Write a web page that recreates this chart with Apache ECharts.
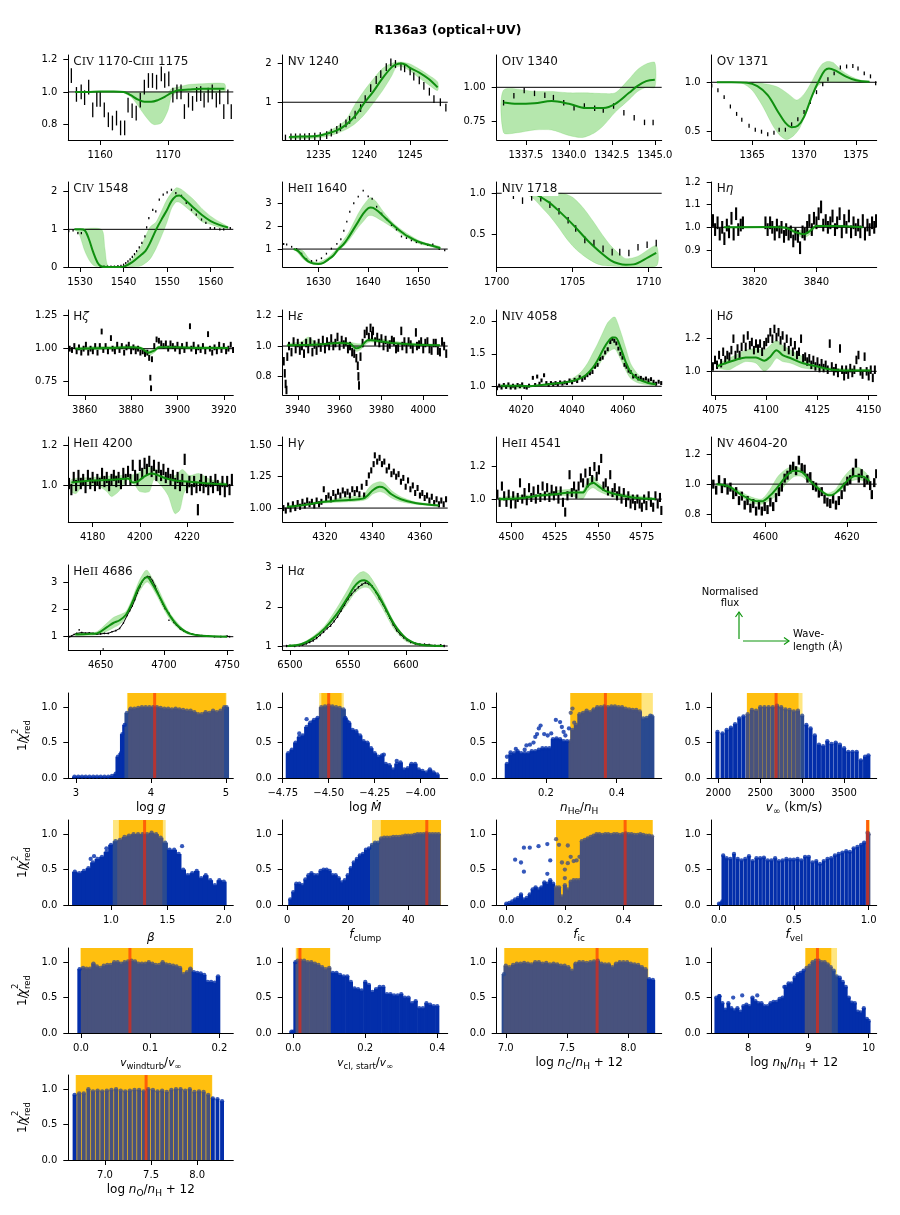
<!DOCTYPE html>
<html>
<head>
<meta charset="utf-8">
<script src="https://cdn.jsdelivr.net/npm/echarts@6/dist/echarts.min.js"></script>
<style>html,body{margin:0;padding:0;background:#fff}#chart{width:900px;height:1215px}</style>
</head>
<body>
<div id="chart"></div>
<script>
const civ1170Spec=[[1155.75,1.1],[1156.5,.985],[1157.2,1],[1157.7,.965],[1158.3,1.03],[1158.9,.89],[1159.5,.955],[1160,.955],[1160.6,.89],[1161.2,.83],[1161.8,.81],[1162.4,.84],[1163,.78],[1163.6,.78],[1164.1,.92],[1164.7,.885],[1165.3,.87],[1165.9,.95],[1166.5,1.03],[1167.1,1.07],[1167.7,1.07],[1168.3,1.06],[1169,1.11],[1169.5,1.07],[1170.1,1.08],[1170.7,.98],[1171.3,1],[1171.9,1],[1172.4,.88],[1173,.95],[1173.6,.93],[1174.2,.985],[1174.8,.99],[1175.3,.95],[1175.9,.98],[1176.5,1],[1177.1,.95],[1177.6,.97],[1178.2,.88],[1178.8,.97],[1179.3,.88]];
const nv1240Spec=[[1231.4,.07],[1232,.1],[1232.5,.1],[1233,.1],[1233.5,.1],[1234,.11],[1234.6,.12],[1235.2,.13],[1235.9,.16],[1236.4,.22],[1237,.29],[1237.4,.36],[1238,.46],[1238.4,.55],[1239,.68],[1239.6,.85],[1240.1,1.08],[1240.7,1.36],[1241.3,1.57],[1241.8,1.72],[1242.4,1.9],[1242.9,2.02],[1243.4,1.98],[1244,1.91],[1244.4,1.87],[1245,1.79],[1245.4,1.66],[1246,1.56],[1246.5,1.42],[1247.1,1.27],[1247.6,1.08],[1248.3,1],[1248.9,.86]];
const oiv1340Spec=[[1336.2,.888],[1336.8,.939],[1337.4,.976],[1338,.956],[1338.6,.942],[1339.1,.925],[1339.7,.888],[1340.3,.852],[1340.9,.864],[1341.5,.847],[1342,.835],[1342.6,.864],[1343.2,.816],[1343.8,.779],[1344.4,.745],[1344.9,.745]];
const ov1371Spec=[[1361.1,.966],[1361.7,.92],[1362.3,.85],[1362.9,.755],[1363.5,.68],[1364,.62],[1364.7,.56],[1365.3,.52],[1365.9,.5],[1366.5,.475],[1367.1,.49],[1367.6,.52],[1368.2,.52],[1368.8,.575],[1369.4,.625],[1370,.7],[1370.6,.8],[1371.2,.9],[1371.8,.98],[1372.3,1.03],[1372.9,1.09],[1373.5,1.15],[1374.1,1.16],[1374.7,1.165],[1375.2,1.14],[1375.8,1.09],[1376.4,1.06],[1376.9,.99]];
const civ1548Spec=[[1527.4,.95],[1528.4,.97],[1529.5,.9],[1530.3,.9],[1534.7,.01],[1535.5,.01],[1536.3,.01],[1537.1,.01],[1537.9,.01],[1538.7,.02],[1539.4,.03],[1540,.06],[1540.5,.1],[1541,.15],[1541.5,.2],[1542,.27],[1542.5,.34],[1543,.42],[1543.6,.52],[1544.2,.64],[1544.9,.81],[1545.3,1.05],[1545.8,1.3],[1546.7,1.52],[1547.4,1.48],[1548.2,1.79],[1549.1,1.92],[1550,1.98],[1551,2.05],[1552,1.96],[1553.3,1.89],[1554.4,1.7],[1555.6,1.52],[1556.7,1.39],[1557.9,1.26],[1558.9,1.17],[1559.9,1.03],[1560.9,1.03],[1562.1,1],[1563,1],[1564.5,1.03]];
const heii1640Spec=[[1623,1.22],[1623.6,1.2],[1624.6,1.1],[1625.6,1],[1626.6,.8],[1627.6,.55],[1628.6,.48],[1629.6,.5],[1630.6,.6],[1631.6,.8],[1632.6,1.02],[1633.7,1.23],[1634.5,1.43],[1635.1,1.8],[1635.7,2.2],[1636.3,2.63],[1637.1,3],[1638,3.29],[1639,3.55],[1640,3.3],[1640.8,3.2],[1641.7,2.85],[1642.7,2.55],[1643.7,2.3],[1644.7,2.05],[1645.7,1.85],[1646.7,1.55],[1647.7,1.48],[1648.7,1.38],[1649.7,1.3],[1650.7,1.25],[1652,1.17],[1653,1.2],[1654.3,1],[1655.4,.95]];
const niv1718Spec=[[1701.1,.97],[1701.7,.91],[1702.3,.95],[1702.9,.94],[1703.5,.86],[1704.1,.78],[1704.7,.67],[1705.2,.57],[1705.8,.43],[1706.4,.39],[1707,.32],[1707.6,.28],[1708.1,.28],[1708.7,.27],[1709.3,.34],[1709.9,.37],[1710.5,.39]];
const hEtaSpec=[[3806.5,1.03],[3807.2,.99],[3808,1.02],[3808.7,.97],[3809.5,1],[3810.2,.95],[3811,1.01],[3811.7,.98],[3812.5,1.04],[3813.2,.97],[3814,1.06],[3814.7,.99],[3815.5,1.01],[3816.2,1.02],[3823.5,1.02],[3824.2,.99],[3825,1.02],[3825.7,1],[3826.5,.97],[3827.2,1.01],[3828,.98],[3828.7,1],[3829.5,.96],[3830.2,.99],[3831,.97],[3831.7,.98],[3832.5,.94],[3833.2,.97],[3834,.96],[3834.7,.91],[3835.5,.98],[3836.2,.97],[3837,1],[3837.7,1.03],[3838.5,.99],[3839.2,1.04],[3840,1.02],[3840.7,1.06],[3841.5,1.09],[3842.2,1.01],[3843,1.03],[3843.7,1],[3844.5,1.02],[3845.2,1.05],[3846,.99],[3846.7,1.02],[3847.5,1.06],[3848.2,.98],[3849,1.03],[3849.7,1],[3850.5,1.05],[3851.2,.98],[3852,1.02],[3852.7,.99],[3853.5,1.01],[3854.2,.98],[3855,1.03],[3855.7,.97],[3856.5,1.01],[3857.2,.99],[3858,1.02],[3858.7,1],[3859.3,1.03]];
const hZetaSpec=[[3853.5,1],[3854.5,.99],[3855.5,1.02],[3856.5,.98],[3857.5,1.01],[3858.5,.97],[3859.5,1],[3860.5,1.03],[3861.5,.97],[3862.5,1],[3863.5,.98],[3864.5,1.02],[3865.5,.97],[3866.5,1.02],[3867.3,1.13],[3868,.99],[3869,1.02],[3870,.98],[3871.3,1.08],[3872,1],[3873,.98],[3874,1.03],[3875,.99],[3876,1.02],[3877,.97],[3878,1.01],[3879,1.03],[3880,.98],[3881,1.01],[3882,.98],[3883,1],[3884,.97],[3885,.98],[3886,.96],[3887,.97],[3887.8,.93],[3888.3,.78],[3888.6,.7],[3889,.92],[3890,1.02],[3891,1.07],[3892,1.06],[3893,1.04],[3894,1.02],[3895,1.04],[3896,1],[3897,1.04],[3898,1.02],[3899,1],[3900,1.03],[3901,.98],[3902,1.02],[3903,.99],[3904,1.03],[3905.4,1.17],[3906,1],[3907,1.03],[3908,.98],[3909,1.01],[3910,.99],[3911,1.02],[3912,.98],[3913.2,1.11],[3914,1],[3915,.97],[3916,1.01],[3917,.98],[3918,1.03],[3919,.99],[3920,1.02],[3921,.98],[3922,1],[3923,1.03],[3924,.99]];
const hEpsSpec=[[3933.3,.9],[3933.8,.82],[3934.2,.75],[3934.6,.71],[3935,.93],[3935.8,1],[3937,.96],[3938,1.03],[3939,.98],[3940,1.02],[3941,.97],[3942,1],[3943,.95],[3944,1.02],[3945,.98],[3946,1.03],[3947,.96],[3948,1.01],[3949,.97],[3950,1.02],[3951,.99],[3952,1.04],[3953,.98],[3954,1.03],[3955,1],[3956,1.05],[3957,1],[3958,1.02],[3959,1.06],[3960,1],[3961,1.04],[3962,1.01],[3963,1.03],[3964,.98],[3965,1],[3966,.96],[3967,.95],[3968,.92],[3968.7,.87],[3969,.8],[3969.3,.74],[3970,.93],[3971,1.02],[3972,1.08],[3973,1.1],[3974,1.06],[3974.8,1.12],[3975.5,1.07],[3976,1.1],[3977,1.03],[3978,1.06],[3979,1.02],[3980,1.05],[3981,1],[3982,1.04],[3983,.99],[3984,1.01],[3985,1.04],[3986,1.03],[3987,.98],[3988,.99],[3989.5,1.1],[3990,1],[3991,1.03],[3992,.98],[3993,1.03],[3994,1.01],[3995,.98],[3996.5,1.09],[3997,1],[3998,1.01],[3999,1.03],[4000,.98],[4001,1.02],[4002,1.03],[4003,.98],[4004,.97],[4005,1.02],[4006,1.02],[4007,.97],[4008,.96],[4009,1.03],[4010,1],[4011,.95]];
const niv4058Spec=[[4010.5,.97],[4011.4,1.01],[4012.3,.98],[4013.2,1.02],[4014.1,.99],[4015,1.03],[4015.9,.98],[4016.8,1.01],[4017.7,.98],[4018.6,1.02],[4019.5,1],[4020.4,1.03],[4021.3,.99],[4022.2,.98],[4023.1,1.01],[4024.6,1.13],[4025.5,1.02],[4026.3,1.15],[4027.2,1.04],[4028,1.09],[4029,1.17],[4029.9,1.05],[4030.8,1.02],[4031.7,1.05],[4032.6,1.03],[4033.5,1.05],[4034.4,1.03],[4035.3,1.06],[4036.2,1.04],[4037.1,1.06],[4038,1.05],[4039,1.09],[4040,1.06],[4041,1.1],[4042,1.08],[4043,1.14],[4044,1.1],[4045,1.13],[4046,1.17],[4047,1.2],[4048,1.22],[4049,1.3],[4050,1.33],[4051,1.42],[4052,1.44],[4053,1.52],[4054,1.57],[4055,1.68],[4055.8,1.73],[4056.6,1.7],[4057.4,1.66],[4058.2,1.58],[4059,1.5],[4059.8,1.44],[4060.6,1.33],[4061.4,1.3],[4062.2,1.24],[4063,1.22],[4064,1.15],[4065,1.16],[4066,1.12],[4067,1.13],[4068,1.1],[4069,1.12],[4070,1.09],[4071,1.11],[4072,1.07],[4073,1.04],[4074,1.07],[4075,1.05]];
const hDeltaSpec=[[4074,1.03],[4075,1.07],[4076,1.04],[4077,1.1],[4078,1.05],[4079,1.12],[4080,1.07],[4081,1.1],[4082,1.09],[4083,1.13],[4084,1.2],[4085,1.1],[4086,1.14],[4087,1.1],[4088,1.15],[4089,1.2],[4090,1.15],[4091,1.22],[4092,1.16],[4093,1.18],[4094,1.13],[4095,1.17],[4096,1.14],[4097,1.17],[4098,1.12],[4099,1.16],[4100,1.18],[4101,1.2],[4102,1.24],[4103,1.2],[4104,1.26],[4105,1.21],[4106,1.24],[4107,1.19],[4108,1.22],[4109,1.15],[4110,1.2],[4111,1.13],[4112,1.18],[4113,1.12],[4114,1.16],[4115,1.1],[4116,1.12],[4117,1.2],[4118,1.08],[4119,1.09],[4120,1.06],[4121,1.08],[4122,1.04],[4123,1.07],[4124,1.03],[4125,1.06],[4126,1.02],[4127,1.05],[4128,1.02],[4129,1.04],[4130,1.01],[4131,1.17],[4132,1.03],[4133,1],[4134,1.02],[4135,.99],[4136,1.14],[4137,1.01],[4138,.97],[4139,1.01],[4140,.98],[4141,1.02],[4142,.99],[4143,1.01],[4144,1.07],[4145,1.1],[4146,1],[4147,.98],[4148,1.09],[4149,1],[4150,.97],[4151,1.01],[4152,.96],[4153,1.01]];
const heii4200Spec=[[4170,1.01],[4171,.98],[4172,1.04],[4173,1],[4174,1.05],[4175,1.01],[4176,1.03],[4177,.99],[4178,1.05],[4179,1.01],[4180,1.04],[4181,1],[4182,1.03],[4183,1.01],[4184,1.06],[4185,1.02],[4186,1.04],[4187,1],[4188,1.03],[4189,1.05],[4190,1.02],[4191,1.04],[4192,1.01],[4193,1.06],[4194,1.03],[4195,1.07],[4196,1.03],[4197,1.1],[4198,1.05],[4199,1.03],[4200,1.1],[4201,1.06],[4202,1.11],[4203,1.08],[4204,1.12],[4205,1.07],[4206,1.1],[4207,1.05],[4208,1.09],[4209,1.05],[4210,1.08],[4211,1.04],[4212,1.06],[4213,1.03],[4214,1.05],[4215,1.01],[4216,1.04],[4217,1],[4218,1.03],[4219,1.13],[4220,.99],[4221,1.02],[4222,.98],[4223,1.02],[4224,.99],[4224.6,.88],[4225.5,1],[4226,1.03],[4227,.99],[4228,1.02],[4229,.98],[4230,1.02],[4231,.99],[4232,1.03],[4233,1],[4234,.98],[4235,1.02],[4236,.97],[4237,1.02],[4238,.98],[4239,1.03]];
const hGammaSpec=[[4302.5,1],[4303.5,.98],[4304.5,1.02],[4305.5,.99],[4306.5,1.03],[4307.5,1],[4308.5,1.04],[4309.5,1.01],[4310.5,1.05],[4311.5,1.02],[4312.5,1.06],[4313.5,1.03],[4314.5,1.05],[4315.5,1.02],[4316.5,1.06],[4317.5,1.03],[4318.5,1.05],[4319.5,1.15],[4320.5,1.08],[4321.5,1.1],[4322.5,1.07],[4323.5,1.12],[4324.5,1.09],[4325.5,1.13],[4326.5,1.1],[4327.5,1.14],[4328.5,1.11],[4329.5,1.13],[4330.5,1.1],[4331.5,1.15],[4332.5,1.12],[4333.5,1.15],[4334.5,1.11],[4335.5,1.17],[4336.5,1.1],[4337.5,1.2],[4338.5,1.26],[4339.5,1.3],[4340.5,1.35],[4341,1.42],[4342,1.37],[4343,1.4],[4344,1.35],[4345,1.37],[4346,1.3],[4347,1.33],[4348,1.27],[4349,1.29],[4350,1.25],[4351,1.27],[4352,1.21],[4353,1.24],[4354,1.17],[4355,1.22],[4356,1.15],[4357,1.18],[4358,1.12],[4359,1.16],[4360,1.1],[4361,1.12],[4362,1.08],[4363,1.1],[4364,1.06],[4365,1.09],[4366,1.04],[4367,1.07],[4368,1.03],[4369,1.06],[4370,1.03],[4371,1.07]];
const heii4541Spec=[[4492,1.03],[4493.3,.98],[4494.6,1.08],[4495.9,1.02],[4497.2,.98],[4498.5,1.03],[4499.8,.97],[4501.1,1.02],[4502.4,.97],[4503.7,1.01],[4505,1.1],[4506.3,1],[4507.6,1.04],[4508.9,.99],[4510.2,1.07],[4511.5,1.01],[4512.8,1.05],[4514.1,1],[4515.4,1.06],[4516.7,1.01],[4518,1.08],[4519.3,1.02],[4520.6,1.07],[4521.9,1.01],[4523.2,1.06],[4524.5,1.02],[4525.8,1.05],[4527.1,1],[4528.4,1.05],[4529.7,.98],[4531,.92],[4532.3,1.02],[4533.5,1.15],[4534.8,1.04],[4536.1,1.08],[4537.4,1.03],[4538.7,1.08],[4540,1.13],[4541.3,1.1],[4542.6,1.16],[4543.9,1.1],[4545.2,1.17],[4546.5,1.12],[4547.8,1.2],[4549.1,1.14],[4550.4,1.18],[4551.7,1.25],[4553,1.08],[4554.3,1.1],[4555.6,1.05],[4556.9,1.15],[4558.2,1.04],[4559.5,1.07],[4560.8,1.02],[4562.1,1.05],[4563.4,1],[4564.7,1.04],[4566,.98],[4567.3,1.02],[4568.6,.97],[4569.9,1],[4571.2,.96],[4572.5,1],[4573.8,.97],[4575.1,.95],[4576.4,1],[4577.7,.96],[4579,1.02],[4580.3,.98],[4581.6,.95],[4582.9,1.02],[4584.2,.97],[4585.5,1.01],[4586.3,.93]];
const nv4604Spec=[[4587.2,1],[4587.9,.96],[4588.6,1.03],[4589.3,.97],[4590,1.01],[4590.7,.96],[4591.4,.98],[4592.1,.93],[4592.8,.95],[4593.5,.89],[4594.2,.92],[4594.9,.86],[4595.6,.89],[4596.3,.84],[4597,.87],[4597.7,.82],[4598.4,.86],[4599.1,.82],[4599.8,.85],[4600.5,.83],[4601.2,.88],[4601.9,.85],[4602.6,.91],[4603.3,.95],[4604,.98],[4604.7,1.04],[4605.4,1.06],[4606.1,1.1],[4606.8,1.12],[4607.5,1.09],[4608.2,1.16],[4608.9,1.11],[4609.6,1.1],[4610.3,1.04],[4611,1.05],[4611.7,.99],[4612.4,.98],[4613.1,.94],[4613.8,.95],[4614.5,.9],[4615.2,.88],[4615.9,.87],[4616.6,.9],[4617.3,.86],[4618,.89],[4618.7,.93],[4619.4,.98],[4620.1,1.02],[4620.8,1.03],[4621.5,1.08],[4622.2,1.14],[4622.9,1.04],[4623.6,1.07],[4624.3,1.01],[4625,1.03],[4625.7,.99],[4626.1,.93],[4626.7,1.01],[4627.2,1.07]];
const heii4686Spec=[[4625.5,1],[4627,1.02],[4629,1.08],[4631,1.12],[4635,1.15],[4638,1.13],[4641,1.14],[4644,1.12],[4647,1.09],[4650,1.1],[4653,1.12],[4656,1.12],[4659,1.18],[4662,1.22],[4665,1.3],[4668,1.5],[4671,1.78],[4673,1.95],[4675,2.12],[4677,2.35],[4679,2.6],[4681,2.82],[4683,3.02],[4685,3.15],[4687,3.2],[4689,3.18],[4691,3.05],[4693,2.85],[4695,2.62],[4697,2.42],[4699,2.2],[4701,2.02],[4704,1.85],[4706,1.68],[4708,1.52],[4710,1.42],[4713,1.28],[4716,1.2],[4719,1.15],[4722,1.1],[4726,1.06],[4730,1.04],[4735,1.02],[4740,1],[4745,1],[4750,1.02],[4752,1]];
const heii4686Strays=[[4633,1.25],[4652,.55],[4704,1.6]];
const hAlphaSpec=[[6497,1],[6500,1.01],[6504,1],[6508,1.02],[6511,1.03],[6514,1.06],[6517,1.1],[6520,1.14],[6523,1.2],[6526,1.28],[6529,1.36],[6532,1.45],[6535,1.52],[6538,1.63],[6541,1.75],[6544,1.9],[6547,2.05],[6550,2.2],[6553,2.32],[6556,2.42],[6559,2.5],[6562,2.57],[6565,2.62],[6568,2.58],[6571,2.52],[6574,2.38],[6577,2.22],[6580,2.07],[6583,1.9],[6586,1.72],[6589,1.55],[6592,1.4],[6595,1.3],[6598,1.22],[6601,1.15],[6604,1.1],[6608,1.06],[6612,1.04],[6616,1.04],[6620,1.03],[6625,1.01],[6630,1.02],[6633,1]];

// model median and upper/lower envelope [wavelength, flux]
const civ1170Med=[[1156.3,1],[1158,1],[1160,1.003],[1162,1.003],[1163.5,1],[1164.5,.98],[1165.5,.955],[1166.5,.94],[1167.5,.94],[1168.5,.95],[1169.5,.97],[1170.5,.995],[1171.5,1.01],[1173,1.015],[1175,1.02],[1178.3,1.02]];
const civ1170Hi=[[1156.3,1],[1170,1],[1170.5,1.02],[1171.5,1.03],[1173,1.045],[1175,1.05],[1178.3,1.05]];
const civ1170Lo=[[1156.3,1],[1163,1],[1164.5,.97],[1165.5,.92],[1166.5,.86],[1167.5,.81],[1168,.8],[1169,.81],[1170,.89],[1170.5,.97],[1171.5,1],[1178.3,1]];
const nv1240Med=[[1231.8,.11],[1233,.12],[1234,.12],[1235,.14],[1236,.2],[1237,.28],[1238,.42],[1239,.65],[1240,.98],[1241,1.28],[1242,1.62],[1243,1.9],[1243.5,1.97],[1244,1.99],[1244.5,1.96],[1245,1.88],[1246,1.76],[1247,1.6],[1248,1.38]];
const nv1240Hi=[[1231.8,.12],[1235,.16],[1236,.25],[1237,.37],[1238,.55],[1239,.95],[1240,1.3],[1241,1.6],[1242,1.87],[1243,2],[1244,2.03],[1245,1.98],[1246,1.85],[1247,1.7],[1248,1.52]];
const nv1240Lo=[[1231.8,.07],[1234,.07],[1235,.09],[1236,.13],[1237,.2],[1238,.3],[1239,.45],[1240,.68],[1241,.98],[1242,1.3],[1243,1.68],[1243.5,1.9],[1244,1.92],[1245,1.8],[1246,1.62],[1247,1.45],[1248,1.3]];
const oiv1340Med=[[1336.2,.89],[1337,.88],[1338,.885],[1339,.9],[1340,.88],[1341,.85],[1342,.85],[1342.7,.88],[1343.5,.96],[1344,1.01],[1344.5,1.045],[1345,1.055]];
const oiv1340Hi=[[1336.2,.98],[1338,.97],[1339,.97],[1340,.96],[1341,.96],[1342,.955],[1342.7,.96],[1343.5,1.06],[1344,1.13],[1344.5,1.17],[1345,1.18]];
const oiv1340Lo=[[1336.2,.67],[1337,.67],[1338,.69],[1339,.69],[1340,.65],[1340.8,.635],[1341.5,.67],[1342,.72],[1342.7,.82],[1343.5,.91],[1344,.97],[1344.5,1],[1345,1]];
const ov1371Med=[[1361.6,1],[1363,1],[1364.5,.995],[1365.5,.96],[1366.5,.87],[1367.5,.7],[1368.2,.59],[1368.8,.545],[1369.4,.56],[1370,.65],[1370.8,.87],[1371.5,1.03],[1372,1.12],[1372.4,1.14],[1373,1.12],[1374,1.06],[1375,1.02],[1376.3,1.005]];
const ov1371Hi=[[1361.6,1],[1365,1],[1366.5,.98],[1367.5,.95],[1368.5,.88],[1369.3,.82],[1370,.88],[1370.6,.98],[1371.2,1.1],[1371.7,1.18],[1372.2,1.21],[1372.8,1.2],[1373.5,1.13],[1374.5,1.06],[1375.5,1.02],[1376.3,1.01]];
const ov1371Lo=[[1361.6,1],[1364,.99],[1365,.92],[1366,.76],[1367,.56],[1367.6,.47],[1368.3,.42],[1369,.46],[1369.6,.54],[1370.3,.72],[1370.8,.86],[1371.3,.96],[1372,1],[1374,1],[1376.3,1]];
const civ1548Med=[[1528.7,1],[1530,1],[1531,.98],[1532,.75],[1533,.4],[1534,.12],[1534.8,.02],[1536,0],[1539,0],[1540,.01],[1542,.13],[1544,.32],[1545,.42],[1546,.62],[1547.5,1],[1549,1.32],[1550,1.52],[1551,1.75],[1552,1.88],[1552.8,1.9],[1554,1.8],[1556,1.58],[1558,1.38],[1560,1.22],[1562,1.12],[1564,1.05]];
const civ1548Hi=[[1528.7,1],[1534.9,1],[1535.7,.5],[1536.5,.02],[1540,.02],[1542,.22],[1544,.55],[1546,1.05],[1547.5,1.2],[1550,1.8],[1552,2.1],[1553,2.08],[1554,2],[1556,1.8],[1558,1.55],[1560,1.35],[1562,1.2],[1564,1.07]];
const civ1548Lo=[[1528.7,1],[1529.7,.9],[1531,.45],[1532,.2],[1533,.05],[1533.8,.01],[1542,0],[1544,.03],[1546,.2],[1547.5,.5],[1549,.9],[1550,1.2],[1551,1.55],[1552,1.72],[1552.8,1.72],[1554,1.62],[1556,1.42],[1558,1.2],[1560,1.13],[1562,1.05],[1564,1.02]];
const heii1640Med=[[1625,1],[1626,.9],[1627,.65],[1628,.45],[1629,.37],[1630,.35],[1631,.4],[1632,.55],[1633,.72],[1634,1],[1635,1.2],[1636,1.5],[1637,1.85],[1638,2.2],[1639,2.55],[1640,2.78],[1640.5,2.82],[1641,2.8],[1642,2.65],[1643,2.45],[1644,2.25],[1645,2.05],[1646,1.87],[1647,1.7],[1648,1.55],[1650,1.33],[1652,1.2],[1654.5,1.05]];
const heii1640Hi=[[1625,1],[1626,1],[1627,.9],[1628,.6],[1629,.45],[1630,.42],[1632,.65],[1634,1.1],[1636,1.7],[1638,2.55],[1639,2.9],[1640,3.18],[1640.5,3.25],[1641.5,3.1],[1643,2.65],[1645,2.15],[1647,1.8],[1650,1.4],[1652,1.24],[1654.5,1.1]];
const heii1640Lo=[[1625,1],[1626,.8],[1627,.55],[1628,.4],[1629,.33],[1630,.32],[1632,.5],[1634,.9],[1636,1.35],[1638,1.95],[1639,2.2],[1640,2.45],[1641,2.45],[1643,2.2],[1645,1.92],[1647,1.6],[1650,1.25],[1652,1.14],[1654.5,1]];
const niv1718Med=[[1701,1],[1702,1],[1702.5,.99],[1703.5,.88],[1704,.8],[1705,.62],[1706,.42],[1707,.25],[1707.5,.18],[1708,.14],[1708.5,.125],[1709,.13],[1710,.22],[1710.5,.27]];
const niv1718Hi=[[1700.8,1],[1704.3,1],[1705,.95],[1705.7,.82],[1706.3,.67],[1707,.48],[1707.5,.36],[1708,.27],[1708.5,.2],[1709.3,.23],[1710.5,.36]];
const niv1718Lo=[[1700.8,1],[1702,.98],[1702.5,.92],[1703,.82],[1703.5,.72],[1704,.6],[1704.7,.42],[1705.3,.3],[1706,.2],[1706.7,.13],[1707.5,.11],[1710.5,.11]];
const hEtaMed=[[3810,1],[3825,1.002],[3830,.998],[3833,.98],[3836,.97],[3838,.985],[3840,1.006],[3845,1.006],[3855,1]];
const hEtaHi=[[3810,1.002],[3830,1.003],[3833,.99],[3836,.985],[3838,.995],[3840,1.01],[3855,1.005]];
const hEtaLo=[[3810,.998],[3830,.995],[3833,.97],[3836,.955],[3838,.97],[3840,1],[3855,.998]];
const hZetaMed=[[3856,1],[3870,1.005],[3880,1.01],[3884,1.005],[3887.5,.97],[3890,.985],[3892,1.01],[3900,1.01],[3910,1.005],[3922,1.005]];
const hZetaHi=[[3856,1.01],[3880,1.02],[3884,1.015],[3887.5,.985],[3890,1.0],[3892,1.02],[3900,1.02],[3922,1.012]];
const hZetaLo=[[3856,.99],[3880,1.0],[3884,.995],[3887.5,.95],[3890,.97],[3892,1.0],[3900,1.0],[3922,.998]];
const hEpsMed=[[3935,1.005],[3950,1.01],[3960,1.02],[3965,1.015],[3968,.985],[3970,.995],[3974,1.04],[3978,1.035],[3985,1.02],[3995,1.01],[4008,1.005]];
const hEpsHi=[[3935,1.015],[3942,1.03],[3945,1.06],[3948,1.03],[3952,1.02],[3960,1.03],[3965,1.025],[3970,1.015],[3974,1.05],[3978,1.05],[3990,1.025],[4008,1.01]];
const hEpsLo=[[3935,1],[3945,1],[3960,1.01],[3965,1],[3968,.965],[3970,.975],[3974,1.025],[3980,1.02],[3990,1.01],[4008,1]];
const niv4058Med=[[4012,1.01],[4020,1.01],[4023,1],[4028,1.02],[4035,1.05],[4040,1.08],[4045,1.16],[4048,1.28],[4050,1.4],[4052,1.55],[4054,1.68],[4056,1.75],[4057,1.75],[4059,1.6],[4061,1.38],[4063,1.22],[4066,1.11],[4070,1.05],[4073,1.03]];
const niv4058Hi=[[4012,1.02],[4023,1.01],[4030,1.04],[4038,1.08],[4043,1.2],[4046,1.35],[4048,1.5],[4050,1.65],[4052,1.82],[4054,1.98],[4056,2.06],[4057,2.06],[4059,1.85],[4061,1.6],[4063,1.35],[4066,1.18],[4070,1.08],[4073,1.05]];
const niv4058Lo=[[4012,.98],[4020,.97],[4023,.99],[4030,1.01],[4038,1.05],[4043,1.1],[4046,1.18],[4048,1.25],[4050,1.3],[4052,1.42],[4054,1.52],[4056,1.57],[4057,1.57],[4059,1.42],[4061,1.25],[4063,1.12],[4066,1.05],[4070,1.02],[4073,1.01]];
const hDeltaMed=[[4076,1.03],[4080,1.05],[4085,1.07],[4090,1.085],[4095,1.085],[4099,1.065],[4102,1.09],[4105,1.13],[4108,1.1],[4112,1.08],[4118,1.05],[4125,1.03],[4132,1.01],[4140,1.005],[4151,1.005]];
const hDeltaHi=[[4076,1.04],[4085,1.1],[4090,1.13],[4095,1.14],[4099,1.13],[4102,1.16],[4105,1.19],[4108,1.16],[4112,1.13],[4118,1.09],[4125,1.04],[4132,1.02],[4151,1.01]];
const hDeltaLo=[[4076,1.02],[4082,1.01],[4085,1.03],[4090,1.06],[4095,1.05],[4099,1],[4102,1.03],[4105,1.08],[4108,1.06],[4112,1.05],[4118,1.02],[4125,1.01],[4132,1],[4151,1]];
const heii4200Med=[[4171,1.015],[4180,1.025],[4190,1.03],[4195,1.035],[4197,1.015],[4199,1.02],[4202,1.045],[4205,1.06],[4210,1.04],[4215,1.025],[4220,1.02],[4225,1.015],[4230,1.01],[4237,1.005]];
const heii4200Hi=[[4171,1.03],[4180,1.04],[4190,1.05],[4195,1.05],[4199,1.06],[4203,1.09],[4207,1.08],[4210,1.05],[4215,1.05],[4218,1.08],[4221,1.05],[4225,1.06],[4230,1.03],[4237,1.01]];
const heii4200Lo=[[4171,.97],[4173,.96],[4176,1],[4182,1],[4186,.97],[4188,.945],[4191,.97],[4195,1.03],[4198,1],[4200,.97],[4204,.97],[4206,1.03],[4209,1],[4212,.95],[4214,.88],[4215,.86],[4217,.88],[4219,.97],[4223,1],[4237,1]];
const hGammaMed=[[4304,1.01],[4310,1.02],[4320,1.05],[4330,1.065],[4336,1.075],[4338,1.1],[4340,1.14],[4343,1.17],[4345,1.16],[4348,1.11],[4352,1.07],[4358,1.04],[4368,1.02]];
const hGammaHi=[[4304,1.015],[4320,1.06],[4330,1.09],[4336,1.1],[4338,1.15],[4340,1.19],[4343,1.21],[4345,1.2],[4348,1.14],[4352,1.09],[4358,1.05],[4368,1.025]];
const hGammaLo=[[4304,1.005],[4320,1.04],[4330,1.05],[4336,1.06],[4338,1.075],[4340,1.11],[4343,1.13],[4345,1.12],[4348,1.08],[4352,1.05],[4358,1.03],[4368,1.015]];
const heii4541Med=[[4493,1],[4505,1.005],[4515,1.02],[4525,1.03],[4535,1.04],[4541,1.04],[4544,1.08],[4547,1.1],[4550,1.08],[4554,1.05],[4560,1.03],[4570,1.01],[4583,1]];
const heii4541Hi=[[4493,1.01],[4515,1.03],[4525,1.05],[4535,1.06],[4541,1.05],[4544,1.12],[4547,1.14],[4550,1.1],[4554,1.07],[4560,1.04],[4583,1.005]];
const heii4541Lo=[[4493,.99],[4515,1.01],[4525,1.02],[4535,1.02],[4541,1],[4544,1.05],[4547,1.07],[4550,1.05],[4554,1.03],[4560,1.01],[4583,.995]];
const nv4604Med=[[4588,1],[4591,.985],[4594,.93],[4597,.89],[4599,.885],[4601,.92],[4603,.98],[4605,1.05],[4607,1.09],[4609,1.08],[4611,1.02],[4613,.97],[4615,.93],[4616,.925],[4618,.96],[4620,1.02],[4622,1.055],[4624,1.05],[4625.5,1.02]];
const nv4604Hi=[[4588,1.005],[4592,.98],[4596,.92],[4599,.9],[4601,.96],[4603,1.05],[4605,1.1],[4607,1.12],[4609,1.1],[4611,1.04],[4613,.99],[4615,.94],[4617,.96],[4619,1.04],[4621,1.1],[4623,1.11],[4625.5,1.05]];
const nv4604Lo=[[4588,.995],[4592,.96],[4596,.88],[4599,.865],[4601,.89],[4603,.93],[4605,1],[4607,1.05],[4609,1.05],[4611,1],[4613,.96],[4615,.92],[4617,.93],[4619,.97],[4621,1.02],[4623,1.03],[4625.5,1.01]];
const heii4686Med=[[4630,1.08],[4640,1.1],[4647,1.12],[4655,1.35],[4660,1.5],[4665,1.6],[4670,1.8],[4675,2.25],[4680,2.8],[4685,3.15],[4687,3.17],[4690,3],[4695,2.6],[4700,2.15],[4705,1.75],[4710,1.45],[4715,1.25],[4720,1.12],[4730,1.03],[4750,1]];
const heii4686Hi=[[4630,1.12],[4640,1.13],[4647,1.18],[4655,1.5],[4660,1.7],[4665,1.8],[4670,1.92],[4675,2.4],[4680,3],[4685,3.4],[4687,3.42],[4690,3.2],[4695,2.8],[4700,2.3],[4705,1.85],[4710,1.55],[4715,1.3],[4720,1.15],[4730,1.05],[4750,1]];
const heii4686Lo=[[4630,1.04],[4640,1.05],[4647,1.07],[4655,1.2],[4660,1.32],[4665,1.45],[4670,1.7],[4675,2.1],[4680,2.6],[4685,2.95],[4687,3],[4690,2.85],[4695,2.45],[4700,2],[4705,1.62],[4710,1.35],[4715,1.18],[4720,1.08],[4730,1],[4750,1]];
const hAlphaMed=[[6498,1],[6510,1.05],[6520,1.2],[6530,1.45],[6540,1.8],[6550,2.25],[6555,2.5],[6560,2.65],[6564,2.68],[6568,2.62],[6575,2.35],[6580,2.1],[6590,1.55],[6600,1.2],[6610,1.05],[6620,1.01],[6632,1]];
const hAlphaHi=[[6498,1],[6510,1.07],[6520,1.25],[6530,1.52],[6540,1.95],[6550,2.45],[6555,2.72],[6560,2.87],[6564,2.9],[6568,2.82],[6575,2.5],[6580,2.2],[6590,1.6],[6600,1.22],[6610,1.06],[6620,1.02],[6632,1]];
const hAlphaLo=[[6498,.98],[6510,1.02],[6520,1.15],[6530,1.4],[6540,1.72],[6550,2.1],[6555,2.32],[6560,2.45],[6564,2.5],[6568,2.48],[6575,2.2],[6580,1.95],[6590,1.42],[6600,1.12],[6610,1.02],[6620,1],[6632,.98]];

// goodness of fit columns [parameter, top of 1/chi2]
const logGCols=[[2.98,.02],[3.03,.02],[3.08,.02],[3.13,.02],[3.18,.02],[3.23,.02],[3.28,.02],[3.33,.02],[3.38,.02],[3.43,.02],[3.48,.03],[3.53,.06],[3.56,.3],[3.6,.35],[3.62,.62],[3.65,.75],[3.68,.92],[3.73,.98],[3.78,.98],[3.83,.99],[3.88,1],[3.93,1],[3.98,1],[4.03,1],[4.08,1],[4.13,.99],[4.18,.98],[4.23,.98],[4.28,.97],[4.33,.98],[4.38,.97],[4.43,.96],[4.48,.95],[4.53,.95],[4.58,.93],[4.63,.9],[4.68,.9],[4.73,.93],[4.78,.92],[4.83,.95],[4.88,.93],[4.93,.95],[4.98,1],[5.01,1]];
const mdotCols=[[-4.72,.35],[-4.7,.4],[-4.68,.5],[-4.66,.58],[-4.64,.6],[-4.62,.72],[-4.6,.78],[-4.58,.82],[-4.56,.85],[-4.54,1],[-4.52,1.01],[-4.5,1.02],[-4.48,1.01],[-4.46,1],[-4.44,.99],[-4.42,.97],[-4.41,.85],[-4.39,.78],[-4.37,.68],[-4.35,.64],[-4.33,.6],[-4.31,.52],[-4.29,.5],[-4.27,.42],[-4.25,.35],[-4.23,.3],[-4.21,.32],[-4.19,.2],[-4.17,.18],[-4.15,.12],[-4.13,.2],[-4.11,.22],[-4.09,.12],[-4.07,.14],[-4.05,.2],[-4.03,.2],[-4.01,.12],[-3.99,.1],[-3.97,.08],[-3.95,.12],[-3.93,.08],[-3.91,.05]];
const nHeCols=[[.09,.2],[.1,.33],[.11,.35],[.12,.38],[.13,.35],[.14,.35],[.15,.35],[.16,.38],[.17,.38],[.18,.4],[.19,.42],[.2,.42],[.21,.42],[.22,.55],[.23,.56],[.24,.55],[.25,.52],[.26,.52],[.27,.52],[.275,.68],[.285,.75],[.295,.9],[.305,.92],[.315,.95],[.325,.93],[.335,.97],[.345,1],[.355,1],[.365,1.01],[.375,1],[.385,1.01],[.395,1.01],[.405,1],[.415,1],[.425,.98],[.435,.97],[.445,.96],[.455,.96],[.465,.94],[.475,.84],[.485,.85],[.495,.88],[.5,.87]];
const vInfCols=[[1990,.65],[2050,.63],[2100,.68],[2150,.71],[2200,.76],[2250,.84],[2300,.87],[2350,.9],[2400,.96],[2450,.95],[2500,1],[2550,1],[2600,1],[2650,1],[2700,1.02],[2750,1],[2800,.97],[2850,.96],[2900,.94],[2950,.95],[3000,.88],[3050,.75],[3100,.7],[3150,.6],[3200,.47],[3250,.45],[3300,.52],[3350,.48],[3400,.5],[3450,.47],[3500,.42],[3550,.37],[3600,.37],[3650,.37],[3700,.25],[3750,.3],[3790,.32]];
const betaCols=[[.68,.47],[.72,.45],[.76,.48],[.8,.52],[.84,.6],[.88,.65],[.92,.68],[.96,.75],[1,.85],[1.04,.9],[1.08,.92],[1.12,.96],[1.16,.98],[1.2,1],[1.24,1],[1.28,1],[1.32,1],[1.36,1.02],[1.4,1],[1.44,.95],[1.48,.88],[1.52,.78],[1.56,.78],[1.6,.72],[1.64,.5],[1.68,.42],[1.72,.45],[1.76,.48],[1.8,.38],[1.84,.42],[1.88,.35],[1.92,.28],[1.96,.35],[2,.33]];
const fClumpCols=[[1,.08],[2,.18],[3,.3],[4,.3],[5,.28],[6,.36],[7,.42],[8,.45],[9,.42],[10,.42],[11,.48],[12,.5],[13,.5],[14,.48],[15,.42],[16,.42],[17,.38],[18,.32],[19,.35],[20,.42],[21,.52],[22,.6],[23,.65],[24,.7],[25,.72],[26,.78],[27,.8],[28,.85],[29,.88],[30,.88],[31,.94],[32,.95],[33,.95],[34,.95],[35,.96],[36,.96],[37,.96],[38,.97],[39,.98],[40,.98],[41,.98],[42,.99],[43,1],[44,1],[45,1],[46,1.01],[47,1],[48,1],[49,1],[50,1]];
const fIcCols=[[0,.02],[.01,.03],[.02,.05],[.03,.08],[.04,.1],[.05,.15],[.06,.08],[.07,.1],[.08,.15],[.09,.22],[.1,.25],[.11,.22],[.12,.25],[.13,.32],[.14,.3],[.15,.35],[.16,.3],[.17,.25],[.18,.25],[.19,.12],[.2,.28],[.21,.22],[.22,.33],[.23,.35],[.24,.35],[.25,.35],[.258,.9],[.268,.92],[.278,.94],[.288,.96],[.298,.98],[.308,1],[.318,1],[.328,.99],[.338,1],[.348,1],[.358,.99],[.368,1],[.378,1],[.388,.99],[.398,1],[.408,1.01],[.418,1],[.428,1],[.438,.99],[.448,.99],[.458,1],[.468,.99],[.478,.98],[.488,.98],[.498,.97]];
const fVelCols=[[0,.02],[.012,.02],[.022,.05],[.028,.7],[.05,.66],[.075,.65],[.1,.72],[.125,.65],[.15,.63],[.175,.65],[.2,.69],[.225,.62],[.25,.66],[.275,.66],[.3,.67],[.325,.63],[.35,.63],[.375,.66],[.4,.62],[.425,.63],[.45,.65],[.475,.64],[.5,.64],[.525,.65],[.55,.63],[.575,.68],[.6,.68],[.625,.6],[.65,.62],[.675,.58],[.7,.62],[.725,.65],[.75,.66],[.775,.7],[.8,.72],[.825,.74],[.85,.76],[.875,.75],[.9,.8],[.925,.82],[.95,.85],[.97,.88],[.993,1.02],[1,1]];
const vTurbCols=[[-.002,.9],[.003,.92],[.008,.91],[.013,.91],[.018,.98],[.023,.94],[.028,.92],[.033,.95],[.038,.96],[.043,.96],[.048,1],[.053,1],[.058,.98],[.063,1],[.068,1.01],[.073,1.02],[.078,1.01],[.083,.98],[.088,.98],[.093,.98],[.098,1],[.103,.98],[.108,.96],[.113,.96],[.118,1],[.123,.97],[.128,.96],[.133,.95],[.138,.94],[.143,.92],[.148,.83],[.153,.86],[.158,.91],[.163,.86],[.168,.85],[.173,.84],[.178,.82],[.183,.72],[.188,.72],[.193,.71],[.198,.8]];
const vClCols=[[-.005,.02],[0,.02],[.006,1],[.012,1.02],[.02,1.02],[.03,1.02],[.04,1],[.05,1],[.06,.98],[.07,.96],[.08,.93],[.09,.9],[.1,.92],[.11,.85],[.12,.85],[.13,.82],[.14,.8],[.15,.8],[.16,.72],[.17,.63],[.18,.62],[.19,.6],[.2,.72],[.21,.68],[.22,.58],[.23,.62],[.24,.65],[.25,.65],[.26,.55],[.27,.55],[.28,.53],[.29,.53],[.3,.55],[.31,.5],[.32,.5],[.33,.42],[.34,.45],[.35,.35],[.36,.35],[.37,.42],[.38,.4],[.39,.38],[.4,.38]];
const nCCols=[[6.985,.83],[7,.95],[7.03,.93],[7.06,.96],[7.09,.98],[7.12,.98],[7.15,.99],[7.18,.98],[7.21,.97],[7.24,1],[7.27,1],[7.3,.98],[7.33,.99],[7.36,.97],[7.39,.98],[7.42,.97],[7.45,.95],[7.48,.95],[7.51,.93],[7.54,.88],[7.57,.98],[7.6,1],[7.63,1],[7.66,.99],[7.69,1],[7.72,1.01],[7.75,1.02],[7.78,.98],[7.81,.97],[7.84,.97],[7.87,.93],[7.9,.98],[7.93,1],[7.96,1],[7.99,1],[8.02,.98],[8.05,.97],[8.08,.96],[8.11,.93],[8.14,.9],[8.17,.76],[8.2,.75]];
const nNCols=[[7.47,.5],[7.52,.52],[7.57,.42],[7.62,.33],[7.67,.42],[7.72,.35],[7.77,.32],[7.82,.35],[7.87,.3],[7.92,.38],[7.97,.4],[8.02,.38],[8.07,.5],[8.12,.45],[8.17,.42],[8.22,.42],[8.27,.38],[8.32,.38],[8.37,.42],[8.42,.44],[8.47,.44],[8.52,.48],[8.57,.5],[8.62,.65],[8.67,.7],[8.72,.7],[8.77,.78],[8.82,.83],[8.87,.85],[8.92,.88],[8.97,.92],[9.02,.95],[9.07,1],[9.12,1.02],[9.17,1.02],[9.22,1],[9.27,1],[9.32,.97],[9.37,.93],[9.42,.88],[9.47,.8],[9.52,.78],[9.57,.72],[9.62,.65],[9.67,.5],[9.72,.43],[9.77,.42],[9.82,.3],[9.87,.29],[9.92,.35],[9.97,.2],[10,.17]];
const nOCols=[[6.67,.92],[6.72,.94],[6.77,.94],[6.82,1],[6.87,.97],[6.92,.98],[6.97,.97],[7.02,.98],[7.07,.99],[7.12,1],[7.17,.98],[7.22,.97],[7.27,.98],[7.32,.99],[7.37,.99],[7.42,.97],[7.47,1],[7.52,.99],[7.57,.97],[7.62,.98],[7.67,.96],[7.72,.99],[7.77,1],[7.82,1],[7.87,.98],[7.92,1],[7.97,.96],[8.02,.97],[8.07,.96],[8.12,.92],[8.17,.87],[8.22,.86],[8.27,.83]];

// stray points above the columns
const mdotDots=[[-4.66,.63],[-4.62,.83],[-4.4,.8],[-4.35,.66],[-4.2,.33],[-4.13,.24]];
const nHeDots=[[.09,.3],[.1,.36],[.115,.41],[.14,.4],[.145,.46],[.155,.47],[.165,.5],[.17,.58],[.175,.62],[.185,.74],[.18,.7],[.195,.62],[.205,.6],[.215,.63],[.228,.82],[.24,.79],[.245,.72],[.25,.65],[.255,.6],[.265,.7],[.27,.92],[.275,.98],[.28,.78],[.3,.8]];
const betaDots=[[1.63,.83],[.85,.69],[.82,.65],[.96,.8]];
const fIcDots=[[.03,.64],[.05,.6],[.06,.81],[.06,.47],[.08,.81],[.11,.83],[.14,.86],[.15,.63],[.14,.44],[.17,.93],[.18,.85],[.21,.84],[.21,.59],[.19,.6],[.2,.5],[.22,.68],[.23,.62],[.24,.63],[.25,.68],[.2,.38]];
const nNDots=[[7.52,.52],[7.75,.5],[7.9,.53],[8.15,.53],[8.6,.65]];

const colLeft=[68.3,282.7,496.7,711.7], rowTop=[55,182,310,437,565,693,820,948,1075];
const panelW=165, panelH=85;
const FONT='DejaVu Sans';

const spectra=[
 {label:'C{s|IV} 1170-C{s|III} 1175',spec:civ1170Spec,err:.045,med:civ1170Med,hi:civ1170Hi,lo:civ1170Lo,xLim:[1155.3,1179.6],yLim:[.706,1.226],xT:[1160,1170],yT:[.8,1,1.2],xD:0,yD:1},
 {label:'N{s|V} 1240',spec:nv1240Spec,err:.1,med:nv1240Med,hi:nv1240Hi,lo:nv1240Lo,xLim:[1231.1,1249.1],yLim:[.033,2.21],xT:[1235,1240,1245],yT:[1,2],xD:0,yD:0},
 {label:'O{s|IV} 1340',spec:oiv1340Spec,err:.02,med:oiv1340Med,hi:oiv1340Hi,lo:oiv1340Lo,xLim:[1335.8,1345.4],yLim:[.617,1.235],xT:[1337.5,1340,1342.5,1345],yT:[.75,1],xD:1,yD:2},
 {label:'O{s|V} 1371',spec:ov1371Spec,err:.02,med:ov1371Med,hi:ov1371Hi,lo:ov1371Lo,xLim:[1361.1,1377],yLim:[.416,1.276],xT:[1365,1370,1375],yT:[.5,1],xD:0,yD:1},
 {label:'C{s|IV} 1548',spec:civ1548Spec,err:.03,med:civ1548Med,hi:civ1548Hi,lo:civ1548Lo,xLim:[1527.3,1565.2],yLim:[0,2.257],xT:[1530,1540,1550,1560],yT:[0,1,2],xD:0,yD:0},
 {label:'He{s|II} 1640',spec:heii1640Spec,err:.04,med:heii1640Med,hi:heii1640Hi,lo:heii1640Lo,xLim:[1622.8,1656],yLim:[.217,3.93],xT:[1630,1640,1650],yT:[1,2,3],xD:0,yD:0},
 {label:'N{s|IV} 1718',spec:niv1718Spec,err:.04,med:niv1718Med,hi:niv1718Hi,lo:niv1718Lo,xLim:[1700,1710.86],yLim:[.098,1.138],xT:[1700,1705,1710],yT:[.5,1],xD:0,yD:1,box:true},
 {label:'H{g|η}',spec:hEtaSpec,err:.028,barW:2.1,med:hEtaMed,hi:hEtaHi,lo:hEtaLo,xLim:[3806.1,3859.5],yLim:[.825,1.2],xT:[3820,3840],yT:[.9,1,1.1,1.2],xD:0,yD:1},
 {label:'H{g|ζ}',spec:hZetaSpec,err:.022,barW:2,med:hZetaMed,hi:hZetaHi,lo:hZetaLo,xLim:[3852.9,3924.1],yLim:[.649,1.293],xT:[3860,3880,3900,3920],yT:[.75,1,1.25],xD:0,yD:2},
 {label:'H{g|ε}',spec:hEpsSpec,err:.028,barW:2,med:hEpsMed,hi:hEpsHi,lo:hEpsLo,xLim:[3932.8,4011.7],yLim:[.677,1.238],xT:[3940,3960,3980,4000],yT:[.8,1,1.2],xD:0,yD:1},
 {label:'N{s|IV} 4058',spec:niv4058Spec,err:.03,barW:2.1,med:niv4058Med,hi:niv4058Hi,lo:niv4058Lo,xLim:[4010.4,4075.2],yLim:[.866,2.174],xT:[4020,4040,4060],yT:[1,1.5,2],xD:0,yD:1},
 {label:'H{g|δ}',spec:hDeltaSpec,err:.026,barW:2,med:hDeltaMed,hi:hDeltaHi,lo:hDeltaLo,xLim:[4073.4,4153.9],yLim:[.855,1.376],xT:[4075,4100,4125,4150],yT:[1,1.2],xD:0,yD:1},
 {label:'He{s|II} 4200',spec:heii4200Spec,err:.028,barW:2.1,med:heii4200Med,hi:heii4200Hi,lo:heii4200Lo,xLim:[4169.7,4239.6],yLim:[.819,1.241],xT:[4180,4200,4220],yT:[1,1.2],xD:0,yD:1},
 {label:'H{g|γ}',spec:hGammaSpec,err:.024,barW:2.1,med:hGammaMed,hi:hGammaHi,lo:hGammaLo,xLim:[4302.2,4371.7],yLim:[.889,1.566],xT:[4320,4340,4360],yT:[1,1.25,1.5],xD:0,yD:2},
 {label:'He{s|II} 4541',spec:heii4541Spec,err:.028,barW:2.1,med:heii4541Med,hi:heii4541Hi,lo:heii4541Lo,xLim:[4491.6,4586.5],yLim:[.859,1.382],xT:[4500,4525,4550,4575],yT:[1,1.2],xD:0,yD:1},
 {label:'N{s|V} 4604-20',spec:nv4604Spec,err:.03,barW:2.4,med:nv4604Med,hi:nv4604Hi,lo:nv4604Lo,xLim:[4586.8,4627.3],yLim:[.747,1.315],xT:[4600,4620],yT:[.8,1,1.2],xD:0,yD:1},
 {label:'He{s|II} 4686',spec:heii4686Spec,strays:heii4686Strays,err:.03,joined:true,med:heii4686Med,hi:heii4686Hi,lo:heii4686Lo,xLim:[4624.4,4754.9],yLim:[.513,3.62],xT:[4650,4700,4750],yT:[1,2,3],xD:0,yD:0},
 {label:'H{g|α}',spec:hAlphaSpec,err:.03,joined:true,med:hAlphaMed,hi:hAlphaHi,lo:hAlphaLo,xLim:[6493.7,6636],yLim:[.898,3.07],xT:[6500,6550,6600],yT:[1,2,3],xD:0,yD:0}
];

const fits=[
 {name:'log {i|g}',cols:logGCols,dots:[],w:5,gold:[3.69,5],pale:[3.68,5.01],best:4.05,xLim:[2.897,5.1],xT:[3,4,5],xD:0},
 {name:'log {i|Ṁ}',cols:mdotCols,dots:mdotDots,w:5,gold:[-4.54,-4.43],pale:[-4.552,-4.418],best:-4.5,xLim:[-4.75,-3.853],xT:[-4.75,-4.5,-4.25,-4],xD:2},
 {name:'{i|n}{b|He}/{i|n}{b|H}',cols:nHeCols,dots:nHeDots,w:4.5,gold:[.269,.47],pale:[.269,.502],best:.368,xLim:[.061,.527],xT:[.2,.4],xD:1},
 {name:'{i|v}{b|∞} (km/s)',cols:vInfCols,dots:[],w:4,gold:[2341,2957],pale:[2341,3004],best:2689,xLim:[1921,3889],xT:[2000,2500,3000,3500],xD:0},
 {name:'{i|β}',cols:betaCols,dots:betaDots,w:5.6,gold:[1.07,1.46],pale:[1.018,1.485],best:1.298,xLim:[.622,2.084],xT:[1,1.5,2],xD:1,gap:25},
 {name:'{i|f}{b|clump}',cols:fClumpCols,dots:[],w:4,gold:[30.9,50.8],pale:[28,50.8],best:46.1,xLim:[-1.5,53],xT:[0,20,40],xD:0},
 {name:'{i|f}{b|ic}',cols:fIcCols,dots:fIcDots,w:4,gold:[.17,.5],pale:[.17,.5],best:.406,xLim:[-.033,.531],xT:[0,.2,.4],xD:1},
 {name:'{i|f}{b|vel}',cols:fVelCols,dots:[],w:3.5,gold:[.985,1.004],pale:[.982,1.007],best:.993,xLim:[-.049,1.054],xT:[0,.5,1],xD:1},
 {name:'{I|v}{B|windturb}/{I|v}{B|∞}',cols:vTurbCols,dots:[],w:4.5,gold:[0,.1616],pale:[-.001,.162],best:.0707,xLim:[-.0183,.22],xT:[0,.1,.2],xD:1},
 {name:'{I|v}{B|cl, start}/{I|v}{B|∞}',cols:vClCols,dots:[],w:4.2,gold:[.0094,.102],pale:[.0067,.103],best:.0185,xLim:[-.0294,.429],xT:[0,.2,.4],xD:1},
 {name:'log {i|n}{b|C}/{i|n}{b|H} + 12',cols:nCCols,dots:[],w:4.6,gold:[6.99,8.16],pale:[6.985,8.165],best:7.745,xLim:[6.926,8.272],xT:[7,7.5,8],xD:1},
 {name:'log {i|n}{b|N}/{i|n}{b|H} + 12',cols:nNCols,dots:nNDots,w:3.8,gold:[8.95,9.38],pale:[8.95,9.475],best:9.15,xLim:[7.393,10.134],xT:[8,9,10],xD:0},
 {name:'log {i|n}{b|O}/{i|n}{b|H} + 12',cols:nOCols,dots:[],w:3.9,gold:[6.686,8.16],pale:[6.68,8.165],best:7.446,xLim:[6.602,8.392],xT:[7,7.5,8],xD:1}
];
const fitYTicks=[0,.5,1];

const grid=[],xAxis=[],yAxis=[],series=[],title=[],graphic=[];

function fmt(v,d){return v.toFixed(d).replace('-','−');}

function addAxes(col,row,xLim,yLim,xT,yT,xD,yD,nameOpt){
  grid.push({left:colLeft[col],top:rowTop[row],width:panelW,height:panelH});
  const i=grid.length-1;
  const line={onZero:false,lineStyle:{color:'#000',width:1}};
  const lbl={color:'#000',fontFamily:FONT,fontSize:10};
  xAxis.push(Object.assign({gridIndex:i,type:'value',position:'bottom',min:xLim[0],max:xLim[1],splitLine:{show:false},axisLine:line,
    axisTick:{length:5,customValues:xT,lineStyle:{color:'#000',width:1}},
    axisLabel:Object.assign({},lbl,{margin:10,customValues:xT,formatter:v=>fmt(v,xD)})},nameOpt||{}));
  yAxis.push({gridIndex:i,type:'value',position:'left',min:yLim[0],max:yLim[1],splitLine:{show:false},axisLine:line,
    axisTick:{length:5,customValues:yT,lineStyle:{color:'#000',width:1}},
    axisLabel:Object.assign({},lbl,{margin:11,customValues:yT,formatter:v=>fmt(v,yD)})});
  return i;
}

function bandRender(hi,lo){
  return function(params,api){
    if(params.dataIndex!==0) return;
    const pts=hi.concat(lo.slice().reverse()).map(p=>api.coord(p));
    return {type:'polygon',shape:{points:pts,smooth:0.25},style:{fill:'#5cc94a',opacity:0.45,stroke:'#5cc94a',lineWidth:0.5},silent:true};
  };
}

spectra.forEach((p,k)=>{
  const col=k%4,row=Math.floor(k/4);
  const i=addAxes(col,row,p.xLim,p.yLim,p.xT,p.yT,p.xD,p.yD);
  const ax={xAxisIndex:i,yAxisIndex:i};
  const barW=p.barW||1.3;
  series.push(Object.assign({type:'custom',coordinateSystem:'cartesian2d',clip:true,z:1,silent:true,data:[[p.xLim[0],p.yLim[0]]],
    renderItem:bandRender(p.hi,p.lo),encode:{x:0,y:1}},ax));
  if(p.joined) series.push(Object.assign({type:'line',z:2,silent:true,symbol:'none',data:p.spec,lineStyle:{color:'#000',width:1}},ax));
  series.push(Object.assign({type:'custom',coordinateSystem:'cartesian2d',clip:true,z:2,silent:true,
    data:p.spec.concat(p.strays||[]).map(d=>[d[0],d[1]-p.err,d[1]+p.err]),encode:{x:0,y:[1,2]},
    renderItem:(params,api)=>{
      const a=api.coord([api.value(0),api.value(1)]),b=api.coord([api.value(0),api.value(2)]);
      return {type:'line',shape:{x1:a[0],y1:a[1],x2:b[0],y2:b[1]},style:{stroke:'#000',lineWidth:barW}};
    }},ax));
  series.push(Object.assign({type:'line',z:3,silent:true,symbol:'none',data:[[p.xLim[0],1],[p.xLim[1],1]],lineStyle:{color:'#000',width:1}},ax));
  series.push(Object.assign({type:'line',z:4,silent:true,symbol:'none',smooth:0.35,data:p.med,lineStyle:{color:'#0f8f0f',width:2}},ax));
  title.push({text:p.label,left:colLeft[col]+5,top:rowTop[row],padding:[1,1,1,0],backgroundColor:p.box?'#fff':'transparent',z:5,
    textStyle:{fontFamily:FONT,fontSize:12,fontWeight:'normal',color:'#111',
      rich:{s:{fontFamily:'DejaVu Serif',fontSize:11,color:'#111'},g:{fontFamily:'DejaVu Sans',fontStyle:'italic',fontSize:12,color:'#111'}}}});
});

const richName={
  i:{fontStyle:'italic',fontSize:12,fontFamily:FONT,color:'#000',lineHeight:16},
  b:{fontSize:9,fontFamily:FONT,color:'#000',verticalAlign:'bottom',lineHeight:16},
  I:{fontStyle:'italic',fontSize:10.5,fontFamily:FONT,color:'#000',lineHeight:16},
  B:{fontSize:8.5,fontFamily:FONT,color:'#000',verticalAlign:'bottom',lineHeight:16}
};

fits.forEach((p,k)=>{
  const col=k%4,row=5+Math.floor(k/4);
  const i=addAxes(col,row,p.xLim,[0,1.2],p.xT,fitYTicks,p.xD,1,{
    name:p.name,nameLocation:'middle',nameGap:p.gap||22,
    nameTextStyle:{fontFamily:FONT,fontSize:12,color:'#000',lineHeight:16,rich:richName}});
  const ax={xAxisIndex:i,yAxisIndex:i};
  const shade=x=>{
    if(x>=p.gold[0]&&x<=p.gold[1]) return '#48527d';
    if(x>=p.pale[0]&&x<=p.pale[1]) return '#2a4a90';
    return '#032eaa';
  };
  const colored=d=>({value:d,itemStyle:{color:shade(d[0])}});
  series.push(Object.assign({type:'line',z:1,silent:true,symbol:'none',data:[],
    markArea:{silent:true,z:1,data:[
      [{xAxis:p.pale[0],yAxis:0,itemStyle:{color:'#ffe680'}},{xAxis:p.pale[1],yAxis:1.2}],
      [{xAxis:p.gold[0],yAxis:0,itemStyle:{color:'#ffbf0f'}},{xAxis:p.gold[1],yAxis:1.2}]
    ]}},ax));
  series.push(Object.assign({type:'bar',z:2,silent:true,barWidth:p.w,data:p.cols.map(colored)},ax));
  series.push(Object.assign({type:'scatter',z:3,silent:true,symbolSize:4.3,data:p.cols.concat(p.dots).map(colored)},ax));
  series.push(Object.assign({type:'line',z:4,silent:true,symbol:'none',data:[[p.best,0],[p.best,1.2]],lineStyle:{color:'#ff2200',width:3,opacity:0.6}},ax));
  if(col===0){
    const t=rowTop[row];
    const txt=(text,x,y,size,style)=>graphic.push({type:'text',x:x,y:y,rotation:Math.PI/2,silent:true,
      style:{text:text,fontFamily:FONT,fontSize:size,fontStyle:style||'normal',fill:'#000',textAlign:'left',textVerticalAlign:'middle'}});
    txt('1/',23,t+58,12);
    txt('χ',23,t+48,12,'italic');
    txt('2',15.5,t+41,8.5);
    txt('red',28,t+41,8.5);
  }
});

title.push({text:'R136a3 (optical+UV)',left:443,top:19,textAlign:'center',textStyle:{fontFamily:FONT,fontSize:12.5,fontWeight:'bold',color:'#000'}});

// orientation key
const keyGreen='#0f960f';
const keyLines=[
  [[739,639],[739,612]],[[735.5,617],[739,612],[742.5,617]],
  [[743,641],[789,641]],[[784,637.5],[789,641],[784,644.5]]
];
keyLines.forEach(pts=>graphic.push({type:'polyline',silent:true,shape:{points:pts},style:{stroke:keyGreen,lineWidth:1.2,fill:null}}));
[['Normalised',730,592,'center'],['flux',730,603,'center'],['Wave-',793,634,'left'],['length (Å)',793,647,'left']].forEach(t=>
  graphic.push({type:'text',x:t[1],y:t[2],silent:true,style:{text:t[0],fontFamily:FONT,fontSize:10,fill:'#000',textAlign:t[3],textVerticalAlign:'middle'}}));

const chart=echarts.init(document.getElementById('chart'),null,{renderer:'canvas'});
chart.setOption({animation:false,backgroundColor:'#fff',title:title,grid:grid,xAxis:xAxis,yAxis:yAxis,series:series,graphic:graphic});
</script>
</body>
</html>
